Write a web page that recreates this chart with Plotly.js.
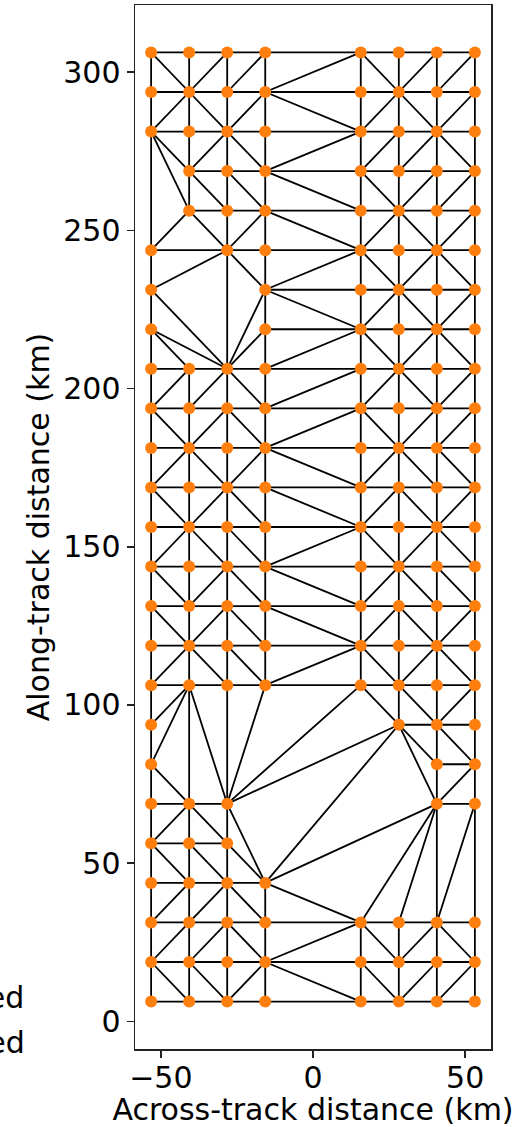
<!DOCTYPE html>
<html>
<head>
<meta charset="utf-8">
<script src="https://cdn.plot.ly/plotly-3.0.1.min.js"></script>
<style>
  html, body { margin: 0; padding: 0; background: #fff; }
  #plot { width: 531px; height: 1127px; }
</style>
</head>
<body>
<div id="plot"></div>
<script>
// Across-track position of each swath column (km)
const acrossKm = [-53.2, -40.7, -28.2, -15.7, 15.7, 28.2, 40.7, 53.2];

// Along-track position of each scan line, listed top to bottom (km)
const alongKm = [306.25, 293.75, 281.25, 268.75, 256.25, 243.75, 231.25, 218.75,
                 206.25, 193.75, 181.25, 168.75, 156.25, 143.75, 131.25, 118.75,
                 106.25, 93.75, 81.25, 68.75, 56.25, 43.75, 31.25, 18.75, 6.25];

// Samples kept on each scan line ('1' = present), one char per column
const present = [
  "11111111", "11111111", "11111111", "01111111", "01111111",
  "10111111", "10011111", "10011111", "11111111", "11111111",
  "11111111", "11111111", "11111111", "11111111", "11111111",
  "11111111", "11111111", "10000111", "10000011", "11100011",
  "11100000", "11110000", "11111111", "11111111", "11111111"
];

// Diagonal chosen in each cell between scan line j and j+1, for the seven
// column gaps: 'f' joins upper-left to lower-right, 'r' lower-left to upper-right
const cellDiag = [
  "frrrfrr", "rfrfrfr", ".rfrrrf", ".ffffrr", "..rfrfr",
  "...rfrf", "...frfr", "...rfrf", "rrfrrfr", "frfrfrr",
  "rfrfrff", "frffrfr", "rffrfrf", "frffrff", "frffrfr",
  "rffrfrf", ".....fr", "......f", "......r", "rf.....",
  "ff.....", "rrf....", "rrfrfrf", "ffrffrr"
];

// Triangle edges that span missing samples ("line:col-line:col")
const extraEdges = [
  "2:0-3:1", "2:0-4:1", "2:0-5:0", "4:1-5:0", "4:1-5:2", "5:0-5:2",
  "5:2-6:0", "5:2-6:3", "5:2-8:2", "6:0-8:2", "7:0-8:2", "7:0-8:1",
  "6:3-8:2", "7:3-8:2",
  "16:1-17:0", "16:1-18:0", "18:0-19:1", "16:1-19:1", "16:1-19:2",
  "16:2-19:2", "16:3-19:2", "16:4-19:2", "17:5-19:2", "19:2-21:3",
  "20:2-21:3", "17:5-21:3", "19:6-21:3", "21:3-22:4", "16:4-17:5",
  "17:5-18:6", "17:5-19:6", "19:6-22:4", "19:6-22:5", "19:6-22:6",
  "19:7-22:7", "19:7-22:6"
];

const has = (j, c) => present[j] && present[j][c] === "1";

// Collect all mesh edges as pairs of [line, col]
const edges = [];
for (let j = 0; j < present.length; j++) {
  for (let c = 0; c < acrossKm.length - 1; c++) {
    if (has(j, c) && has(j, c + 1)) edges.push([[j, c], [j, c + 1]]);
  }
  if (j < present.length - 1) {
    for (let c = 0; c < acrossKm.length; c++) {
      if (has(j, c) && has(j + 1, c)) edges.push([[j, c], [j + 1, c]]);
    }
    for (let c = 0; c < acrossKm.length - 1; c++) {
      const d = cellDiag[j][c];
      if (d === "f" && has(j, c) && has(j + 1, c + 1)) edges.push([[j, c], [j + 1, c + 1]]);
      if (d === "r" && has(j + 1, c) && has(j, c + 1)) edges.push([[j + 1, c], [j, c + 1]]);
    }
  }
}
extraEdges.forEach(s => {
  const [a, b] = s.split("-").map(p => p.split(":").map(Number));
  edges.push([a, b]);
});

const lx = [], ly = [];
edges.forEach(([a, b]) => {
  lx.push(acrossKm[a[1]], acrossKm[b[1]], null);
  ly.push(alongKm[a[0]], alongKm[b[0]], null);
});

const px = [], py = [];
present.forEach((row, j) => {
  for (let c = 0; c < row.length; c++) {
    if (row[c] === "1") { px.push(acrossKm[c]); py.push(alongKm[j]); }
  }
});

const font = { family: "DejaVu Sans, sans-serif", size: 30, color: "#000" };

const data = [
  { x: lx, y: ly, type: "scatter", mode: "lines",
    line: { color: "#000", width: 1.8 }, hoverinfo: "skip", showlegend: false },
  { x: px, y: py, type: "scatter", mode: "markers",
    marker: { color: "#ff7f0e", size: 12 }, showlegend: false }
];

const axisBase = {
  showgrid: false, zeroline: false, showline: true, mirror: true,
  linecolor: "#222", linewidth: 1.5, ticks: "outside", ticklen: 7,
  tickwidth: 1.5, tickcolor: "#222", tickfont: font, automargin: false
};

const layout = {
  width: 531, height: 1127,
  margin: { l: 135, r: 40, t: 5, b: 78 },
  paper_bgcolor: "#fff", plot_bgcolor: "#fff",
  showlegend: false,
  xaxis: Object.assign({}, axisBase, {
    range: [-58.5, 58.5], tickvals: [-50, 0, 50], ticklabelstandoff: -6,
    title: { text: "Across-track distance (km)", font: font, standoff: 2 }
  }),
  yaxis: Object.assign({}, axisBase, {
    range: [-8.75, 321.25], tickvals: [0, 50, 100, 150, 200, 250, 300],
    title: { text: "Along-track distance (km)", font: font, standoff: 4 }
  }),
  annotations: [
    { text: "Observed", xref: "paper", yref: "paper", x: -0.306, y: 0.0498,
      xanchor: "right", yanchor: "middle", showarrow: false, font: font },
    { text: "Interpolated", xref: "paper", yref: "paper", x: -0.303, y: 0.0067,
      xanchor: "right", yanchor: "middle", showarrow: false, font: font }
  ]
};

Plotly.newPlot("plot", data, layout, { staticPlot: true, displayModeBar: false });
</script>
</body>
</html>
